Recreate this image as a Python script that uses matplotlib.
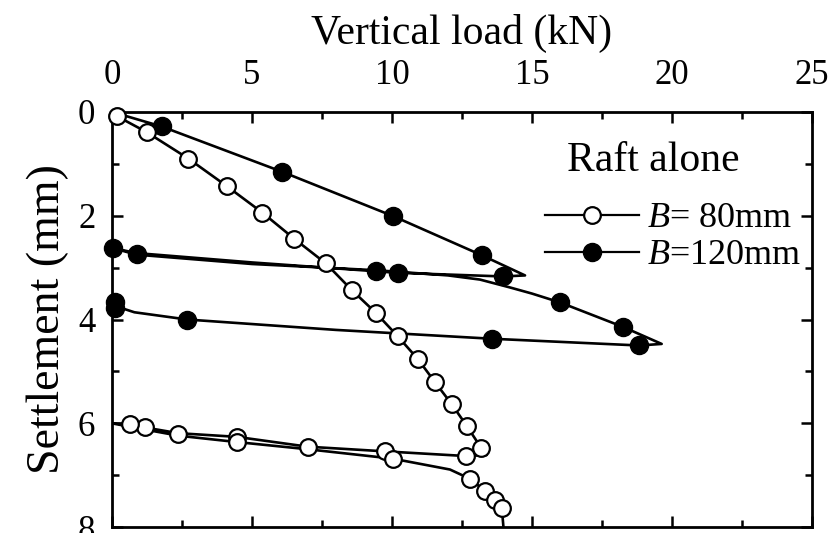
import numpy as np
import matplotlib.pyplot as plt
from matplotlib.lines import Line2D
from matplotlib.ticker import MultipleLocator

plt.rcParams['font.family'] = ['Liberation Serif', 'DejaVu Serif']
plt.rcParams['mathtext.fontset'] = 'custom'
plt.rcParams['mathtext.it'] = 'Liberation Serif:italic'
plt.rcParams['mathtext.rm'] = 'Liberation Serif'

# B = 80 mm : load path (load kN, settlement mm)
b80_x = [0, 0.17, 1.24, 2.73, 4.1, 5.37, 6.5, 7.64, 8.56, 9.42, 10.2, 10.92, 11.54, 12.13,
         12.67, 13.18, 13.38,
         12.64, 9.75, 6.99, 4.45, 2.37, 1.18, 0.64, 0.0,
         1.18, 2.4, 4.45, 7.0, 10.02, 12.07, 12.79, 13.32, 13.68, 13.92, 13.98]
b80_y = [0, 0.08, 0.39, 0.9, 1.43, 1.94, 2.44, 2.92, 3.43, 3.87, 4.32, 4.76, 5.21, 5.63,
         6.05, 6.47, 6.61,
         6.63, 6.54, 6.45, 6.26, 6.19, 6.08, 6.02, 6.0,
         6.12, 6.24, 6.36, 6.5, 6.68, 6.89, 7.07, 7.3, 7.47, 7.63, 8.0]
# B = 80 mm : measured points
b80_mx = [0.17, 1.24, 2.73, 4.1, 5.37, 6.5, 7.64, 8.56, 9.42, 10.2, 10.92, 11.54, 12.13,
          12.67, 13.18, 12.64, 9.75, 6.99, 4.45, 2.37, 1.18, 0.64,
          4.45, 10.02, 12.79, 13.32, 13.68, 13.92]
b80_my = [0.08, 0.39, 0.9, 1.43, 1.94, 2.44, 2.92, 3.43, 3.87, 4.32, 4.76, 5.21, 5.63,
          6.05, 6.47, 6.63, 6.54, 6.45, 6.26, 6.21, 6.08, 6.02,
          6.36, 6.68, 7.07, 7.3, 7.47, 7.63]

# B = 120 mm : load path
b120_x = [0, 1.77, 6.06, 10.05, 13.2, 14.75,
          13.98, 10.2, 9.43, 5.0, 0.88, 0.0,
          0.88, 5.0, 9.43, 12.0, 13.14, 14.2, 15.0, 16.0, 18.24, 19.63,
          18.83, 13.56, 8.0, 2.69, 0.8, 0.0]
b120_y = [0, 0.28, 1.15, 2.01, 2.76, 3.15,
          3.17, 3.1, 3.07, 2.9, 2.72, 2.62,
          2.75, 2.93, 3.05, 3.15, 3.23, 3.38, 3.5, 3.67, 4.14, 4.47,
          4.5, 4.37, 4.2, 4.0, 3.86, 3.72]
# B = 120 mm : measured points
b120_mx = [1.77, 6.06, 10.05, 13.2, 13.98, 10.2, 9.43, 0.88, 0.05,
           16.0, 18.24, 18.83, 13.56, 2.69, 0.1, 0.1]
b120_my = [0.28, 1.15, 2.01, 2.76, 3.17, 3.1, 3.07, 2.73, 2.62,
           3.67, 4.14, 4.5, 4.37, 4.0, 3.66, 3.78]

fig = plt.figure(figsize=(8.32, 5.33), dpi=100)
ax = fig.add_axes([0.1346, 0.011, 0.8414, 0.779])

ax.plot(b80_x, b80_y, color='black', lw=1.9, zorder=2)
ax.plot(b120_x, b120_y, color='black', lw=1.9, zorder=2)
ax.plot(b120_mx, b120_my, 'o', color='black', ms=13, zorder=3, clip_on=False)
ax.plot(b80_mx, b80_my, 'o', mfc='white', mec='black', mew=1.6, ms=12, zorder=4, clip_on=False)

ax.set_xlim(0, 25)
ax.set_ylim(8, 0)
ax.xaxis.set_major_locator(MultipleLocator(5))
ax.xaxis.set_minor_locator(MultipleLocator(2.5))
ax.yaxis.set_major_locator(MultipleLocator(2))
ax.yaxis.set_minor_locator(MultipleLocator(1))
ax.xaxis.tick_top()
ax.xaxis.set_label_position('top')
ax.tick_params(which='both', direction='in', top=True, bottom=True, left=True, right=True,
               labelsize=25, width=1.8)
ax.tick_params(axis='x', pad=14)
ax.tick_params(axis='y', pad=12)
ax.tick_params(which='major', length=8)
ax.tick_params(which='minor', length=5)
for s in ax.spines.values():
    s.set_linewidth(2)

ax.set_xlabel('Vertical load (kN)', fontsize=30, labelpad=11)
ax.set_ylabel('Settlement (mm)', fontsize=33, labelpad=6)

handles = [Line2D([], [], color='black', lw=1.6, marker='o', mfc='white', mec='black', mew=1.6, ms=12),
           Line2D([], [], color='black', lw=1.6, marker='o', ms=13)]
leg = ax.legend(handles, ['$B$= 80mm', '$B$=120mm'], title='Raft alone', frameon=False,
                loc='upper right', bbox_to_anchor=(1.02, 0.99), fontsize=26, title_fontsize=30,
                handlelength=2.6, handletextpad=0.2, labelspacing=0.1, borderaxespad=0.3)
leg._legend_box.sep = 16
leg._legend_box.align = 'left'
leg.get_title().set_position((22, 0))

fig.savefig('out.png', dpi=100)
